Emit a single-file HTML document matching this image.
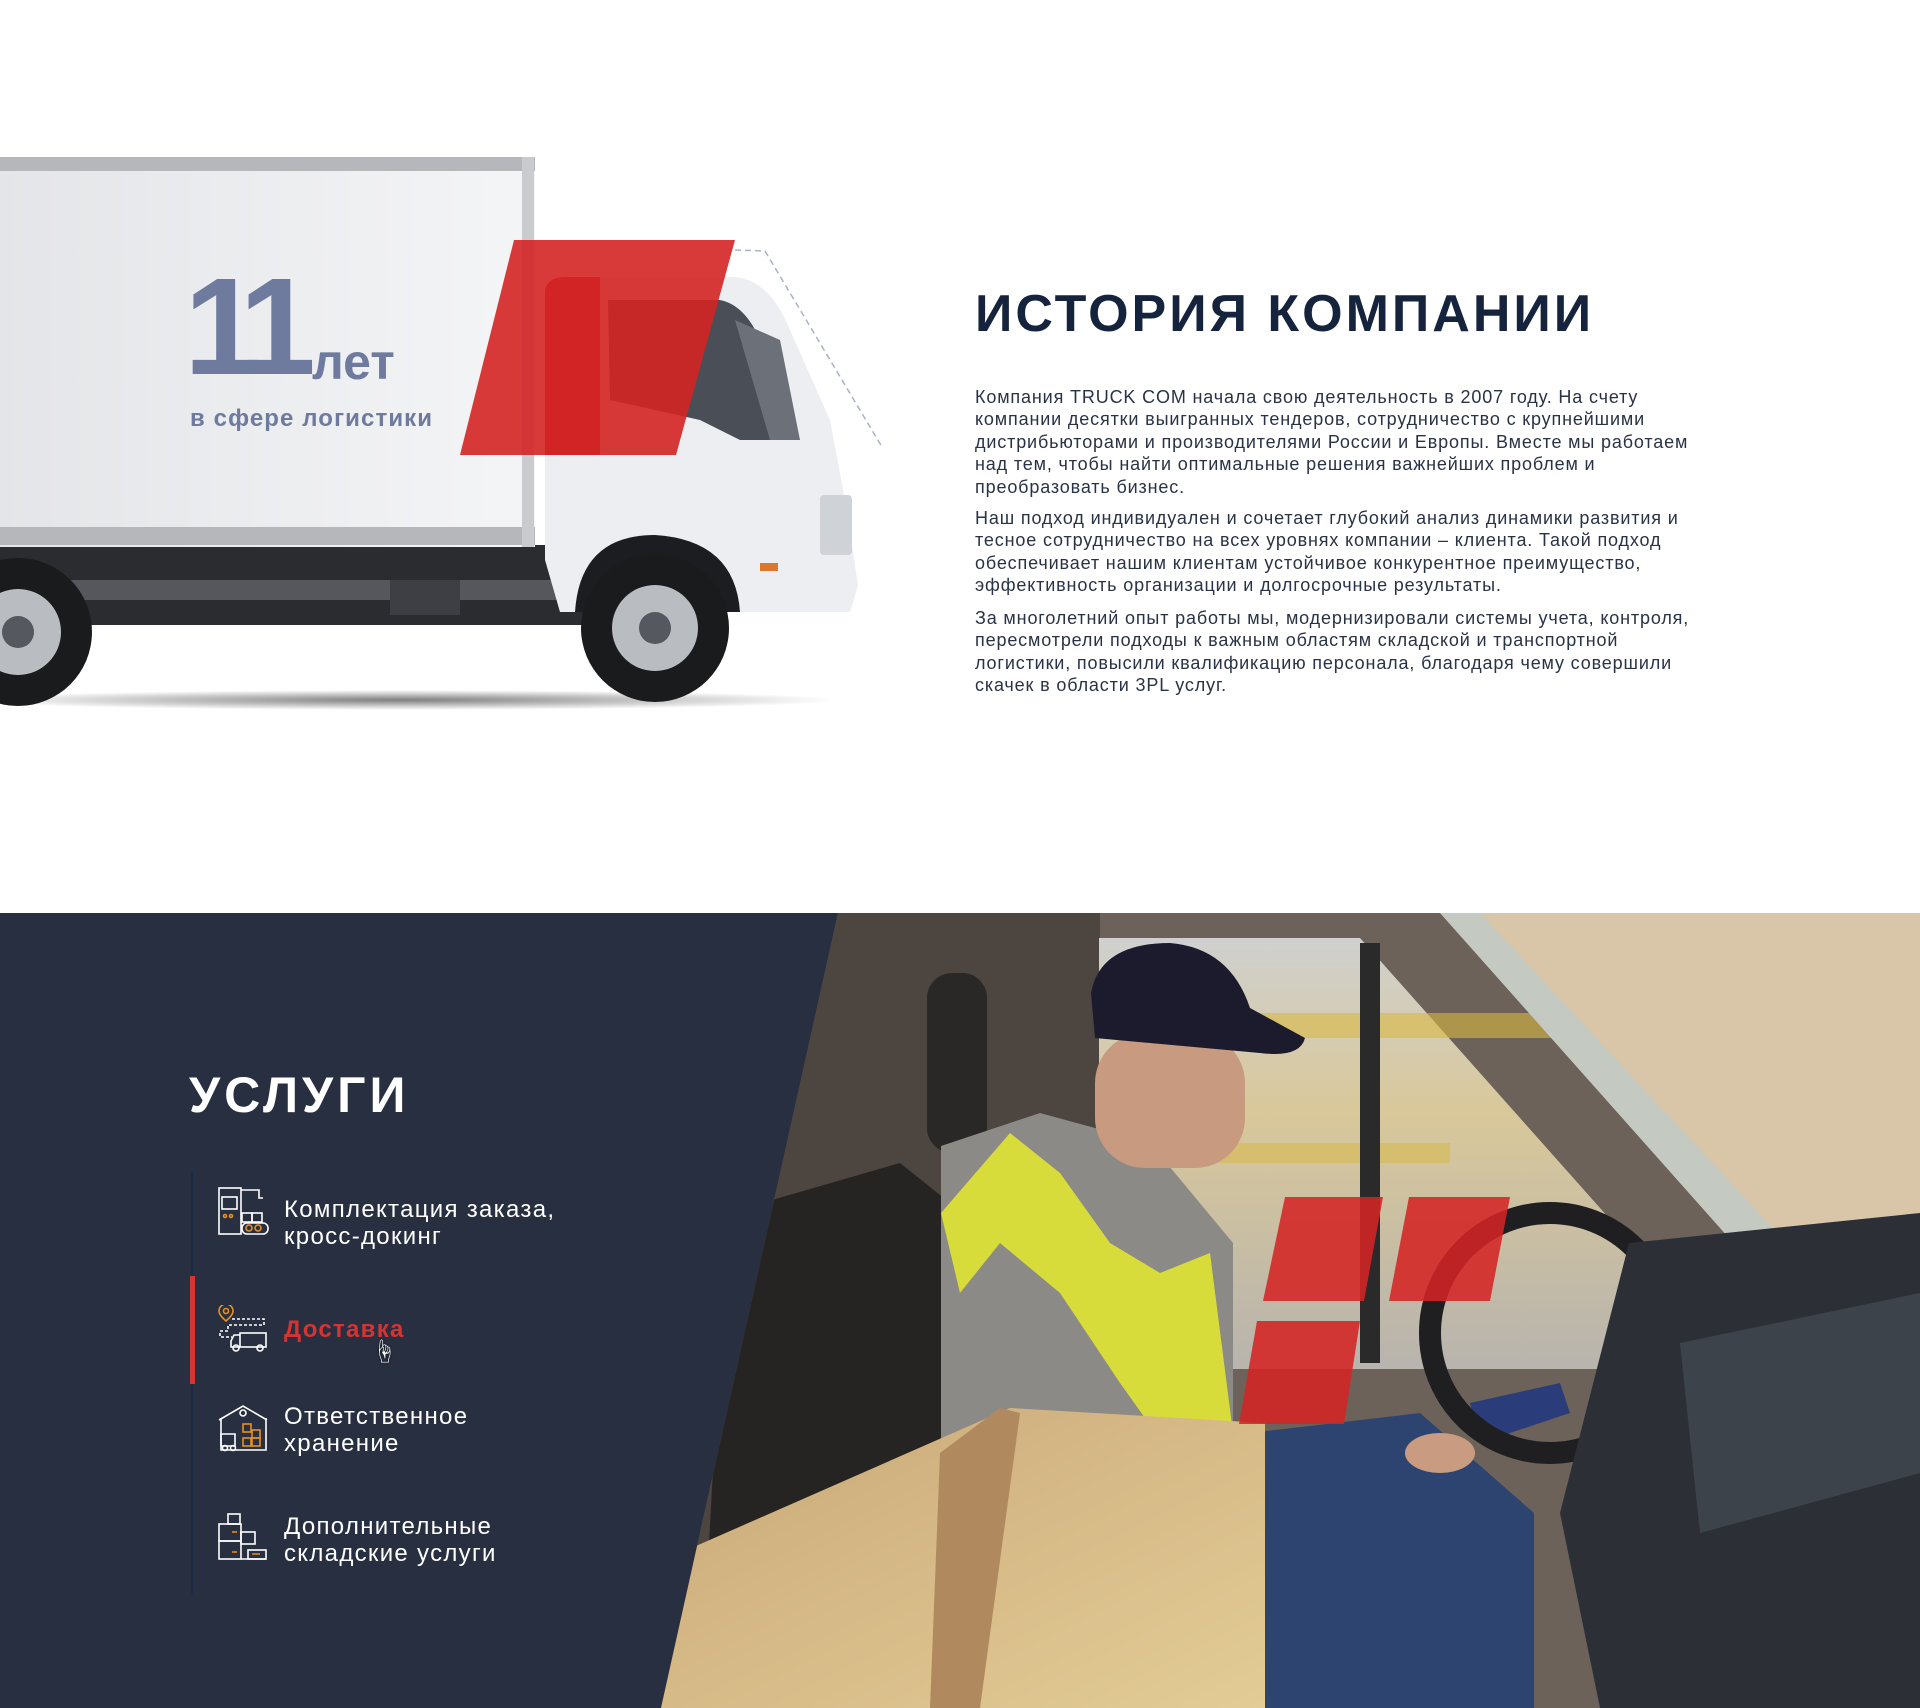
<!DOCTYPE html>
<html><head><meta charset="utf-8">
<style>
html,body{margin:0;padding:0}
body{width:1920px;height:1708px;position:relative;overflow:hidden;background:#fff;font-family:"Liberation Sans","Noto Sans CJK SC",sans-serif}
.abs{position:absolute}
#h-title{left:975px;top:284px;font-size:52px;font-weight:bold;letter-spacing:3px;color:#15233c;margin:0;white-space:nowrap}
.para{left:975px;width:760px;font-size:18px;letter-spacing:0.85px;line-height:22.4px;color:#2a3245;margin:0;white-space:nowrap}
#dark{left:0;top:913px;width:1920px;height:795px;background:#282f40}
#s-title{left:189px;top:1066px;font-size:50px;font-weight:bold;letter-spacing:4px;color:#fff;margin:0}
.item{left:284px;font-size:24px;line-height:27px;color:#fff;letter-spacing:1.3px;white-space:nowrap}
</style></head><body>
<svg class="abs" style="left:0;top:0" width="900" height="720" viewBox="0 0 900 720">
<defs><linearGradient id="bx" x1="0" x2="1"><stop offset="0" stop-color="#e4e5e8"/><stop offset="1" stop-color="#f4f5f7"/></linearGradient>
<radialGradient id="sh"><stop offset="0" stop-color="#000" stop-opacity=".5"/><stop offset="1" stop-color="#000" stop-opacity="0"/></radialGradient></defs>
<ellipse cx="400" cy="700" rx="440" ry="10" fill="url(#sh)"/>
<rect x="0" y="545" width="600" height="80" fill="#2b2c2f"/>
<rect x="0" y="580" width="560" height="20" fill="#55575c"/>
<rect x="390" y="580" width="70" height="35" fill="#3d3f44"/>
<rect x="0" y="157" width="535" height="390" fill="url(#bx)"/>
<rect x="0" y="157" width="535" height="14" fill="#b5b7bb"/>
<rect x="0" y="527" width="535" height="18" fill="#b5b7bb"/>
<rect x="522" y="157" width="12" height="390" fill="#c9cbcf"/>
<path d="M545 290 Q548 277 565 277 L735 277 Q770 280 790 330 L830 420 L845 500 L858 585 L850 612 L560 612 L545 560 Z" fill="#eceef1"/>
<path d="M545 290 Q548 277 565 277 L600 277 L600 455 L545 455 Z" fill="#c32c2c"/>
<path d="M608 300 L720 300 Q745 305 760 340 L800 440 L740 440 L700 420 L610 400 Z" fill="#4a4f57"/>
<path d="M735 320 L780 340 L800 440 L770 440 Z" fill="#6b7079"/>
<rect x="820" y="495" width="32" height="60" rx="4" fill="#cfd2d6"/>
<rect x="760" y="563" width="18" height="8" fill="#d9782e"/>
<path d="M575 612 Q580 535 655 535 Q735 540 740 612 Z" fill="#1c1d20"/>
<circle cx="655" cy="628" r="74" fill="#1a1b1d"/>
<circle cx="655" cy="628" r="43" fill="#b9bcc1"/>
<circle cx="655" cy="628" r="16" fill="#55585e"/>
<circle cx="18" cy="632" r="74" fill="#1a1b1d"/>
<circle cx="18" cy="632" r="43" fill="#b9bcc1"/>
<circle cx="18" cy="632" r="16" fill="#55585e"/>
<polygon points="514,240 735,240 676,455 460,455" fill="#d42424" opacity="0.9"/>
<polyline points="735,250 765,251 882,447" fill="none" stroke="#aab2c8" stroke-width="1.5" stroke-dasharray="6 4"/>
</svg>
<div class="abs" style="left:184px;top:258px;font-size:138px;font-weight:bold;color:#6e7a9e;letter-spacing:-14px;line-height:138px">11</div>
<div class="abs" style="left:312px;top:333px;font-size:50px;font-weight:bold;color:#6e7a9e">лет</div>
<div class="abs" style="left:190px;top:405px;font-size:24px;font-weight:bold;color:#6e7a9e;letter-spacing:1.1px">в сфере логистики</div>

<h1 class="abs" id="h-title">ИСТОРИЯ КОМПАНИИ</h1>
<p class="abs para" style="top:386px">Компания TRUCK COM начала свою деятельность в 2007 году. На счету<br>компании десятки выигранных тендеров, сотрудничество с крупнейшими<br>дистрибьюторами и производителями России и Европы. Вместе мы работаем<br>над тем, чтобы найти оптимальные решения важнейших проблем и<br>преобразовать бизнес.</p>
<p class="abs para" style="top:507px">Наш подход индивидуален и сочетает глубокий анализ динамики развития и<br>тесное сотрудничество на всех уровнях компании – клиента. Такой подход<br>обеспечивает нашим клиентам устойчивое конкурентное преимущество,<br>эффективность организации и долгосрочные результаты.</p>
<p class="abs para" style="top:607px">За многолетний опыт работы мы, модернизировали системы учета, контроля,<br>пересмотрели подходы к важным областям складской и транспортной<br>логистики, повысили квалификацию персонала, благодаря чему совершили<br>скачек в области 3PL услуг.</p>

<div class="abs" id="dark"></div>
<svg class="abs" style="left:0;top:913px" width="1920" height="795" viewBox="0 0 1920 795">
<defs><clipPath id="cp"><polygon points="838,0 1920,0 1920,795 661,795"/></clipPath>
<linearGradient id="win" x1="0" y1="0" x2="0" y2="1"><stop offset="0" stop-color="#cfd0cf"/><stop offset=".4" stop-color="#d9c89a"/><stop offset="1" stop-color="#b8b4ae"/></linearGradient>
<linearGradient id="box" x1="0" y1="0" x2="1" y2="1"><stop offset="0" stop-color="#c9a878"/><stop offset="1" stop-color="#e3cc96"/></linearGradient></defs>
<g clip-path="url(#cp)">
<rect x="650" y="0" width="1280" height="795" fill="#6d625a"/>
<rect x="650" y="0" width="450" height="795" fill="#4c4540"/>
<polygon points="1099,25 1360,25 1640,340 1629,456 1099,456" fill="url(#win)"/>
<rect x="1150" y="100" width="420" height="25" fill="#d8b842" opacity=".6"/>
<rect x="1130" y="230" width="320" height="20" fill="#d8b842" opacity=".5"/>
<rect x="1360" y="30" width="20" height="420" fill="#2a2a2a"/>
<polygon points="1470,0 1920,0 1920,355 1810,355" fill="#d9c5a8"/>
<polygon points="1440,0 1480,0 1810,355 1760,360" fill="#c4c9c2"/>
<rect x="927" y="60" width="60" height="180" rx="25" fill="#2a2826"/>
<polygon points="727,300 900,250 1000,330 996,660 760,795 700,795" fill="#262422"/>
<polygon points="941,233 1040,200 1150,230 1233,330 1233,532 941,540" fill="#8b8a86"/>
<polygon points="941,300 1010,220 1060,260 1110,330 1160,360 1210,340 1233,520 1170,540 1120,470 1060,380 1000,330 960,380" fill="#d7dc3a"/>
<rect x="1095" y="120" width="150" height="135" rx="50" fill="#c89a80"/>
<path d="M1091 80 Q1100 30 1170 30 Q1230 35 1250 95 L1305 125 Q1300 145 1260 140 L1095 125 Z" fill="#1c1b2e"/>
<polygon points="1233,522 1420,500 1534,600 1534,795 1250,795" fill="#2d4470"/>
<ellipse cx="1440" cy="540" rx="35" ry="20" fill="#c99c82"/>
<polygon points="1470,490 1560,470 1570,500 1480,530" fill="#2a3d7a"/>
<circle cx="1550" cy="420" r="120" fill="none" stroke="#1f1f21" stroke-width="22"/>
<polygon points="1629,330 1920,300 1920,795 1600,795 1560,600" fill="#2c3036"/>
<polygon points="1680,430 1920,380 1920,560 1700,620" fill="#3d434b"/>
<polygon points="680,640 1010,495 1265,510 1265,795 650,795" fill="url(#box)"/>
<polygon points="940,540 1000,495 1020,500 980,795 930,795" fill="#b08a5e"/>
</g>
<polygon points="1285,284 1383,284 1364,388 1263,388" fill="#d42424" opacity=".88"/>
<polygon points="1409,284 1510,284 1490,388 1389,388" fill="#d42424" opacity=".88"/>
<polygon points="1257,408 1360,408 1344,511 1239,511" fill="#d42424" opacity=".88"/>
</svg>

<h2 class="abs" id="s-title">УСЛУГИ</h2>
<div class="abs" style="left:191px;top:1172px;width:2px;height:422px;background:#1c2a45"></div>
<div class="abs" style="left:190px;top:1276px;width:5px;height:108px;background:#d63333"></div>

<svg class="abs" style="left:218px;top:1186px" width="52" height="52" viewBox="0 0 52 52" fill="none" stroke="#fff" stroke-width="1.6"><rect x="1" y="2" width="22" height="46"/><rect x="4" y="11" width="15" height="12"/><path d="M23 4h18v8h4"/><rect x="24" y="27" width="10" height="9"/><rect x="34" y="27" width="10" height="9"/><rect x="24" y="37" width="26" height="11" rx="5"/><circle cx="31" cy="42" r="3" stroke="#e89020"/><circle cx="40" cy="42" r="3" stroke="#e89020"/><circle cx="7" cy="30" r="1.5" stroke="#e89020"/><circle cx="13" cy="30" r="1.5" stroke="#e89020"/></svg>
<div class="abs item" style="top:1196px">Комплектация заказа,<br>кросс-докинг</div>

<svg class="abs" style="left:218px;top:1305px" width="52" height="48" viewBox="0 0 52 48" fill="none" stroke="#fff" stroke-width="1.6"><path d="M8 16 Q1 10 1 6 a7 7 0 0 1 14 0 Q15 10 8 16Z" stroke="#e89020"/><circle cx="8" cy="6" r="2.5" stroke="#e89020"/><path d="M14 14h32v6h-36v6h-8v6h12" stroke-dasharray="3 2"/><rect x="22" y="28" width="26" height="14"/><path d="M22 30h-6l-3 6v6h9"/><circle cx="18" cy="43" r="3"/><circle cx="42" cy="43" r="3"/></svg>
<div class="abs item" style="top:1316px;color:#d63333;font-weight:bold">Доставка</div>
<div class="abs" style="left:372px;top:1332px;font-size:24px;color:#fff;text-shadow:0 0 2px #000">☝</div>

<svg class="abs" style="left:218px;top:1404px" width="52" height="48" viewBox="0 0 52 48" fill="none" stroke="#fff" stroke-width="1.6"><path d="M1 16 L25 2 L49 16 M3 14v32h45V14"/><circle cx="25" cy="9" r="3"/><rect x="25" y="20" width="8" height="8" stroke="#e89020"/><rect x="34" y="26" width="8" height="8" stroke="#e89020"/><rect x="25" y="34" width="8" height="8" stroke="#e89020"/><rect x="34" y="34" width="8" height="8" stroke="#e89020"/><path d="M3 30h14v12H3z"/><circle cx="7" cy="44" r="2.5"/><circle cx="15" cy="44" r="2.5"/></svg>
<div class="abs item" style="top:1403px">Ответственное<br>хранение</div>

<svg class="abs" style="left:218px;top:1512px" width="52" height="50" viewBox="0 0 52 50" fill="none" stroke="#fff" stroke-width="1.6"><rect x="1" y="12" width="22" height="17"/><rect x="1" y="29" width="22" height="18"/><rect x="10" y="2" width="12" height="10"/><rect x="23" y="20" width="14" height="12"/><rect x="30" y="38" width="18" height="9"/><path d="M23 47h25"/><path d="M14 20h5M14 40h5M34 42h8" stroke="#e89020"/></svg>
<div class="abs item" style="top:1513px">Дополнительные<br>складские услуги</div>
</body></html>
